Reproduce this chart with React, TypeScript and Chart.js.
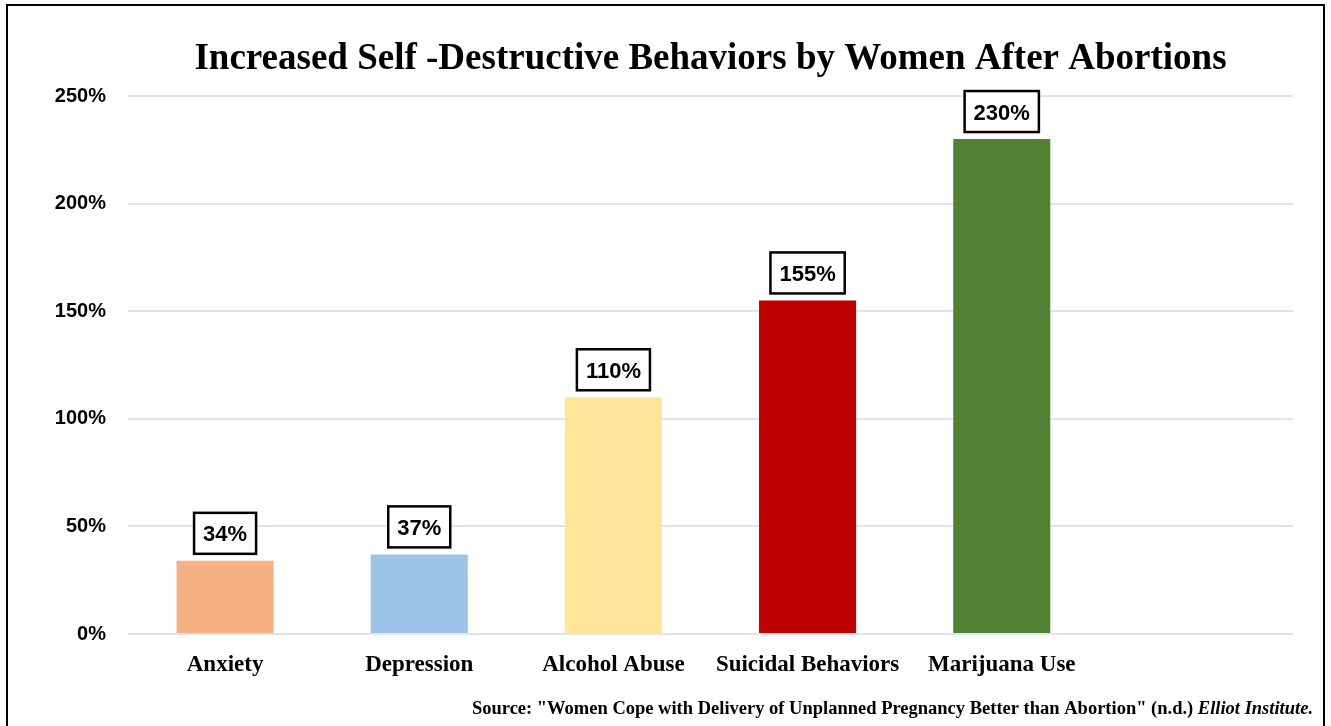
import React, { useEffect, useRef } from "react";
import { Chart, registerables } from "chart.js";

Chart.register(...registerables);

const categories = ["Anxiety", "Depression", "Alcohol Abuse", "Suicidal Behaviors", "Marijuana Use", ""];
const values: (number | null)[] = [34, 37, 110, 155, 230, null];
const barColors = ["#F4B183", "#9DC3E6", "#FFE699", "#C00000", "#548235", "#FFFFFF"];
const yTickValues = [0, 50, 100, 150, 200, 250];
const titleText = "Increased Self -Destructive Behaviors by Women After Abortions";
const sourceMain = 'Source: "Women Cope with Delivery of Unplanned Pregnancy Better than Abortion" (n.d.) ';
const sourceItalic = "Elliot Institute.";

const decorPlugin = {
  id: "decor",
  afterDraw(chart: any) {
    const ctx = chart.ctx;
    const area = chart.chartArea;
    ctx.save();
    // frame
    ctx.strokeStyle = "#000";
    ctx.lineWidth = 2;
    ctx.strokeRect(7, 5, 1317, 800);
    // title
    ctx.fillStyle = "#000";
    ctx.font = "bold 37px 'Liberation Serif'";
    ctx.textAlign = "center";
    ctx.textBaseline = "alphabetic";
    ctx.fillText(titleText, (area.left + area.right) / 2, 69);
    // data labels
    const meta = chart.getDatasetMeta(0);
    ctx.font = "bold 22px 'Liberation Sans'";
    meta.data.forEach((bar: any, i: number) => {
      const v = values[i];
      if (v == null) return;
      const txt = `${v}%`;
      const tw = ctx.measureText(txt).width;
      const bw = tw + 18;
      const bh = 41;
      const cx = bar.x;
      const bottom = bar.y - 7;
      ctx.fillStyle = "#fff";
      ctx.fillRect(cx - bw / 2, bottom - bh, bw, bh);
      ctx.strokeStyle = "#000";
      ctx.lineWidth = 2.5;
      ctx.strokeRect(cx - bw / 2, bottom - bh, bw, bh);
      ctx.fillStyle = "#000";
      ctx.textAlign = "center";
      ctx.textBaseline = "alphabetic";
      ctx.fillText(txt, cx, bottom - bh / 2 + 8);
    });
    // source
    ctx.textAlign = "left";
    ctx.font = "bold italic 18.5px 'Liberation Serif'";
    const wi = ctx.measureText(sourceItalic).width;
    ctx.font = "bold 18.5px 'Liberation Serif'";
    const wm = ctx.measureText(sourceMain).width;
    const right = 1313;
    const base = 714;
    ctx.fillText(sourceMain, right - wi - wm, base);
    ctx.font = "bold italic 18.5px 'Liberation Serif'";
    ctx.fillText(sourceItalic, right - wi, base);
    ctx.restore();
  },
};

export default function App() {
  const ref = useRef<HTMLCanvasElement | null>(null);
  useEffect(() => {
    if (!ref.current) return;
    const chart = new Chart(ref.current, {
      type: "bar",
      data: {
        labels: categories,
        datasets: [
          {
            data: values as any,
            backgroundColor: barColors,
            barPercentage: 0.5,
            categoryPercentage: 1,
          },
        ],
      },
      options: {
        animation: false,
        responsive: true,
        maintainAspectRatio: false,
        layout: { padding: { top: 96, right: 38, left: 0, bottom: 0 } },
        plugins: { legend: { display: false }, tooltip: { enabled: false }, title: { display: false } },
        scales: {
          x: {
            grid: { display: false, drawTicks: false },
            border: { display: false },
            ticks: {
              color: "#000",
              font: { family: "'Liberation Serif'", size: 23, weight: "bold" },
              padding: 17,
              maxRotation: 0,
              autoSkip: false,
            },
            afterFit: (s: any) => {
              s.height = 92;
            },
          },
          y: {
            min: 0,
            max: 250,
            afterBuildTicks: (s: any) => {
              s.ticks = yTickValues.map((v) => ({ value: v }));
            },
            grid: { color: "#E1E5EA", lineWidth: 2, drawTicks: false },
            border: { display: false },
            ticks: {
              color: "#000",
              font: { family: "'Liberation Sans'", size: 20, weight: "bold" },
              padding: 22,
              callback: (v: any) => `${v}%`,
            },
            afterFit: (s: any) => {
              s.width = 128;
            },
          },
        },
      },
      plugins: [decorPlugin],
    });
    return () => chart.destroy();
  }, []);
  return (
    <div style={{ position: "absolute", left: 0, top: 0, width: 1331, height: 726, background: "#fff" }}>
      <canvas ref={ref} />
    </div>
  );
}
